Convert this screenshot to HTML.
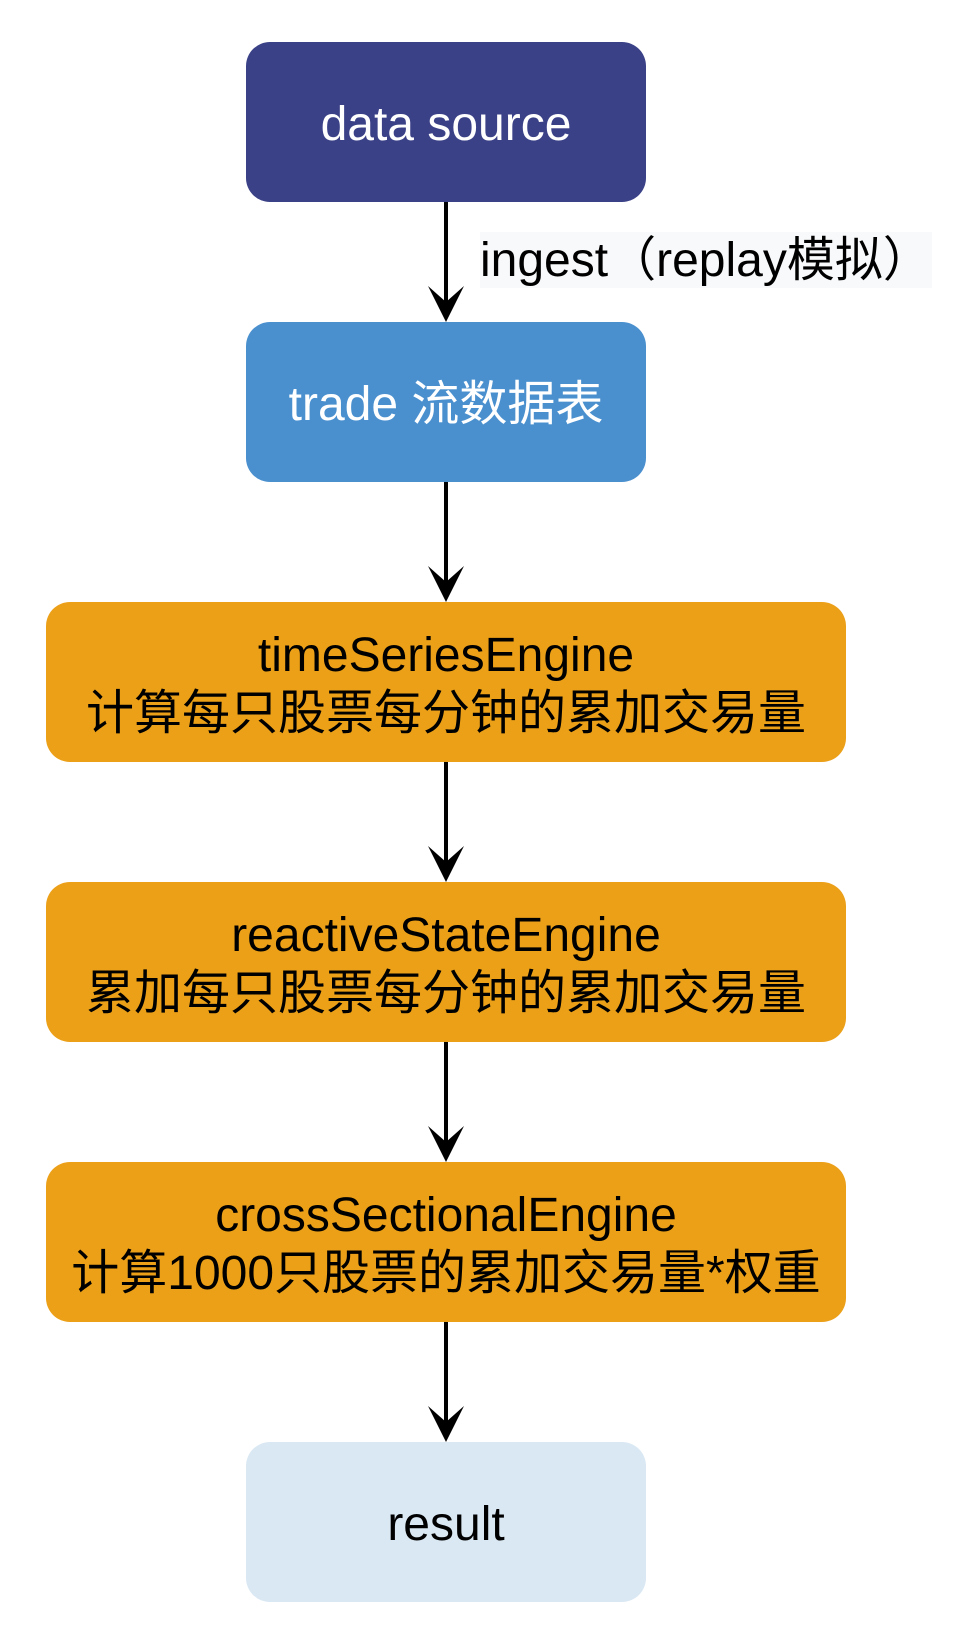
<!DOCTYPE html>
<html>
<head>
<meta charset="utf-8">
<style>
  html, body { margin:0; padding:0; background:#ffffff; }
  body { width:968px; height:1644px; position:relative; overflow:hidden;
         font-family:"Liberation Sans","Noto Sans CJK SC",sans-serif; }
  .box { position:absolute; height:160px; border-radius:24px; box-sizing:border-box; padding-top:6px;
         display:flex; align-items:center; justify-content:center; text-align:center;
         font-size:48px; line-height:57.6px; white-space:nowrap; }
  .narrow { left:246px; width:400px; }
  .wide { left:46px; width:800px; }
  .ds { background:#3B4187; color:#ffffff; }
  .tr { background:#4A90CF; color:#ffffff; }
  .or { background:#ECA018; color:#000000; }
  .rs { background:#DAE8F3; color:#000000; }
  .label { position:absolute; left:480px; top:232px; height:56px; width:452px;
           background:#F8F9FA; font-size:48px; line-height:57px; color:#000;
           white-space:nowrap; }
  svg { position:absolute; left:0; top:0; }
</style>
</head>
<body>
<svg width="968" height="1644" viewBox="0 0 968 1644">
  <g stroke="#000" stroke-width="4" fill="none">
    <line x1="446" y1="202" x2="446" y2="304"/>
    <line x1="446" y1="482" x2="446" y2="584"/>
    <line x1="446" y1="762" x2="446" y2="864"/>
    <line x1="446" y1="1042" x2="446" y2="1144"/>
    <line x1="446" y1="1322" x2="446" y2="1424"/>
  </g>
  <g fill="#000">
    <polygon points="446,322 428,286 446,302 464,286"/>
    <polygon points="446,602 428,566 446,582 464,566"/>
    <polygon points="446,882 428,846 446,862 464,846"/>
    <polygon points="446,1162 428,1126 446,1142 464,1126"/>
    <polygon points="446,1442 428,1406 446,1422 464,1406"/>
  </g>
</svg>

<div class="box narrow ds" style="top:42px;">data source</div>
<div class="label">ingest（replay模拟）</div>
<div class="box narrow tr" style="top:322px;">trade 流数据表</div>
<div class="box wide or" style="top:602px;"><div>timeSeriesEngine<br>计算每只股票每分钟的累加交易量</div></div>
<div class="box wide or" style="top:882px;"><div>reactiveStateEngine<br>累加每只股票每分钟的累加交易量</div></div>
<div class="box wide or" style="top:1162px;"><div>crossSectionalEngine<br>计算1000只股票的累加交易量*权重</div></div>
<div class="box narrow rs" style="top:1442px;">result</div>
</body>
</html>
